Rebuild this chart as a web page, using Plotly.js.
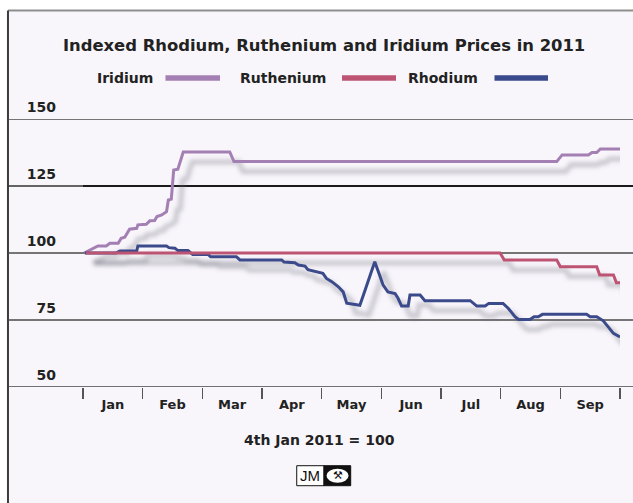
<!DOCTYPE html>
<html>
<head>
<meta charset="utf-8">
<script src="https://cdn.plot.ly/plotly-3.0.1.min.js"></script>
<style>
  html, body { margin: 0; padding: 0; background: #ffffff; }
  #chart { width: 633px; height: 503px; }
</style>
</head>
<body>
<div id="chart"></div>
<script>
// ---- data (x = months since 1 Jan 2011, y = index, 4 Jan 2011 = 100) ----
const monthLabels = ['Jan','Feb','Mar','Apr','May','Jun','Jul','Aug','Sep'];
const monthCentres = [0.5,1.5,2.5,3.5,4.5,5.5,6.5,7.5,8.5];
const monthBounds = [0,1,2,3,4,5,6,7,8,9];
const yTicks = [50,75,100,125,150];

const iridiumX = [0.02,0.11,0.25,0.39,0.45,0.59,0.64,0.70,0.78,0.90,0.92,1.06,1.12,1.20,1.24,1.32,1.40,1.43,1.48,1.52,1.59,1.68,2.46,2.53,7.94,8.03,8.47,8.53,8.61,8.67,9.0];
const iridiumY = [100,101.1,102.6,102.6,103.6,103.6,105.5,105.9,108.9,109.2,110.5,110.7,112,112.1,113.6,114.2,115.4,119.8,120.1,131,131.3,137.7,137.7,134.1,134.1,136.6,136.6,137.5,137.5,138.8,138.8];

const rutheniumX = [0.05,6.99,7.06,7.94,8.0,8.61,8.66,8.89,8.94,9.0];
const rutheniumY = [100,100,97.4,97.4,94.9,94.9,91.8,91.8,88.9,88.9];

const rhodiumX = [0.03,0.55,0.62,0.90,0.92,1.40,1.44,1.54,1.59,1.76,1.84,2.10,2.14,2.57,2.63,3.33,3.37,3.55,3.61,3.72,3.77,3.91,4.02,4.08,4.17,4.28,4.36,4.42,4.53,4.64,4.70,4.78,4.89,4.97,5.03,5.11,5.23,5.28,5.34,5.45,5.48,5.65,5.73,6.49,6.60,6.74,6.80,7.04,7.13,7.24,7.30,7.49,7.56,7.63,7.70,8.44,8.50,8.61,8.72,8.89,8.95,9.0];
const rhodiumY = [100,100,100.7,100.7,102.6,102.6,102,101.8,100.9,100.9,99.4,99.4,98.6,98.6,97.4,97.4,96.6,96.4,95.5,95.1,93.8,93,92.4,90.5,89.3,87.4,85.5,81.3,81.0,80.5,84.3,89.3,96.7,91.8,88,85.5,84.9,83.1,80.2,80.2,84.3,84.3,82.2,82.2,80.2,80.2,81.2,81.2,79.3,76.2,75.2,75.2,76.2,76.2,77.1,77.1,76.2,76.2,74.7,70,69.3,68.7];

const seriesNames = ['Iridium','Ruthenium','Rhodium'];
const colours = {Iridium:'#a47fb3', Ruthenium:'#bd5473', Rhodium:'#3b4a8b'};

// ---- styling ----
const FONT = '"DejaVu Sans", sans-serif';
const TXT = '#222222';
const shadowCol = 'rgba(110,110,125,0.34)';
const X_RANGE = [0, 9], Y_RANGE = [50, 150];
// shadow offset in data units (~9px right, ~10px down)
const sdx = 0.15, sdy = 3.7;

const series = [
  {name:'Iridium', x:iridiumX, y:iridiumY},
  {name:'Rhodium', x:rhodiumX, y:rhodiumY},
  {name:'Ruthenium', x:rutheniumX, y:rutheniumY}
];

const traces = [];
series.forEach(s => traces.push({
  x:s.x, y:s.y, type:'scatter', mode:'lines', xaxis:'x', yaxis:'y',
  line:{color:shadowCol, width:5}, showlegend:false, hoverinfo:'skip'
}));
series.forEach(s => traces.push({
  x:s.x, y:s.y, type:'scatter', mode:'lines', xaxis:'x2', yaxis:'y2', name:s.name,
  line:{color:colours[s.name], width:3}, showlegend:false
}));

const L = -0.1397, R = 1.03;
const shapes = [
  {type:'rect', xref:'paper', yref:'paper', x0:L, x1:1.1, y0:-0.5, y1:1.405, fillcolor:'#f8f6fa', line:{width:0}, layer:'below'},
  {type:'line', xref:'paper', yref:'paper', x0:L, x1:1.1, y0:1.405, y1:1.405, line:{color:'#8e8e8e', width:2}, layer:'below'},
  {type:'line', xref:'paper', yref:'paper', x0:L, x1:L, y0:-0.5, y1:1.405, line:{color:'#3c3c3c', width:2}, layer:'below'}
];
yTicks.forEach(v => {
  if (v === 125) {
    shapes.push({type:'line', xref:'paper', yref:'y2', x0:L, x1:0, y0:v, y1:v, line:{color:'#333', width:1.3}, layer:'below'});
    shapes.push({type:'line', xref:'paper', yref:'y2', x0:0, x1:R, y0:v, y1:v, line:{color:'#1a1a1a', width:2.2}, layer:'below'});
  } else {
    shapes.push({type:'line', xref:'paper', yref:'y2', x0:L, x1:R, y0:v, y1:v, line:{color: v===50 ? '#444' : '#4a4a4a', width: v===50 ? 1.6 : 1.3}, layer:'below'});
  }
});

const legendPos = [
  {name:'Iridium',  tx:0.1341, x0:0.1536, x1:0.2551},
  {name:'Ruthenium',tx:0.4562, x0:0.4823, x1:0.5829},
  {name:'Rhodium',  tx:0.7393, x0:0.7663, x1:0.8659}
];
const LY = 1.153;
const annotations = [];
legendPos.forEach(p => {
  shapes.push({type:'line', xref:'paper', yref:'paper', x0:p.x0, x1:p.x1, y0:LY, y1:LY, line:{color:colours[p.name], width:5.5}});
  annotations.push({xref:'paper', yref:'paper', x:p.tx, y:LY, xanchor:'right', yanchor:'middle', showarrow:false,
    text:'<b>'+p.name+'</b>', font:{family:FONT, size:14, color:TXT}});
});
annotations.push({xref:'paper', yref:'paper', x:0.4395, y:-0.198, xanchor:'center', yanchor:'middle', showarrow:false,
  text:'<b>4th Jan 2011 = 100</b>', font:{family:FONT, size:14, color:TXT}});

// JM logo
shapes.push({type:'rect', xref:'paper', yref:'paper', x0:0.398, x1:0.4488, y0:-0.3683, y1:-0.2937, fillcolor:'#ffffff', line:{color:'#111', width:1}});
shapes.push({type:'rect', xref:'paper', yref:'paper', x0:0.4488, x1:0.4985, y0:-0.3683, y1:-0.2937, fillcolor:'#111111', line:{color:'#111', width:1}});
shapes.push({type:'circle', xref:'paper', yref:'paper', x0:0.4535, x1:0.4945, y0:-0.3571, y1:-0.3049, fillcolor:'#ffffff', line:{width:0}});
annotations.push({xref:'paper', yref:'paper', x:0.4236, y:-0.331, xanchor:'center', yanchor:'middle', showarrow:false,
  text:'JM', font:{family:'"Liberation Sans", Arial, sans-serif', size:15, color:'#111'}});
annotations.push({xref:'paper', yref:'paper', x:0.474, y:-0.331, xanchor:'center', yanchor:'middle', showarrow:false,
  text:'\u2692', font:{family:'"DejaVu Sans", sans-serif', size:11, color:'#111'}});

const layout = {
  width:633, height:503,
  margin:{l:83, r:13, t:119, b:116, pad:0},
  paper_bgcolor:'#ffffff', plot_bgcolor:'rgba(0,0,0,0)',
  showlegend:false, hovermode:false,
  title:{text:'<b>Indexed Rhodium, Ruthenium and Iridium Prices in 2011</b>',
    font:{family:FONT, size:16.4, color:TXT}, xref:'container', x:0.512, xanchor:'center',
    yref:'container', y:0.9105, yanchor:'middle'},
  xaxis:{range:[X_RANGE[0]-sdx, X_RANGE[1]-sdx], visible:false, fixedrange:true},
  yaxis:{range:[Y_RANGE[0]+sdy, Y_RANGE[1]+sdy], visible:false, fixedrange:true},
  xaxis2:{range:X_RANGE, overlaying:'x', anchor:'y2', side:'bottom',
    showgrid:false, zeroline:false, showline:false,
    tickmode:'array', tickvals:monthCentres, ticktext:monthLabels.map(m=>'<b>'+m+'</b>'), ticks:'',
    ticklabelstandoff:8,
    tickfont:{family:FONT, size:13, color:TXT},
    minor:{tickmode:'array', tickvals:monthBounds, ticks:'outside', ticklen:11, tickwidth:1.5, tickcolor:'#555', showgrid:false}
  },
  yaxis2:{range:Y_RANGE, overlaying:'y', anchor:'x2', side:'left',
    showgrid:false, zeroline:false, showline:false,
    tickmode:'array', tickvals:yTicks, ticktext:yTicks.map(v=>'<b>'+v+'</b>'), ticks:'',
    ticklabelstandoff:26, ticklabelshift:-12,
    tickfont:{family:FONT, size:14, color:TXT}
  },
  shapes:shapes, annotations:annotations
};

Plotly.newPlot('chart', traces, layout, {displayModeBar:false, staticPlot:true}).then(gd => {
  try {
    const svg = gd.querySelector('.main-svg');
    const defs = svg.querySelector('defs');
    const ns = 'http://www.w3.org/2000/svg';
    const f = document.createElementNS(ns, 'filter');
    f.setAttribute('id', 'shadowblur');
    f.setAttribute('filterUnits', 'userSpaceOnUse');
    f.setAttribute('x', '0'); f.setAttribute('y', '0');
    f.setAttribute('width', '633'); f.setAttribute('height', '503');
    const b = document.createElementNS(ns, 'feGaussianBlur');
    b.setAttribute('stdDeviation', '2');
    f.appendChild(b);
    defs.appendChild(f);
    const layer = gd.querySelector('.subplot.xy .scatterlayer');
    if (layer) layer.setAttribute('filter', 'url(#shadowblur)');
  } catch (e) {}
});
</script>
</body>
</html>
